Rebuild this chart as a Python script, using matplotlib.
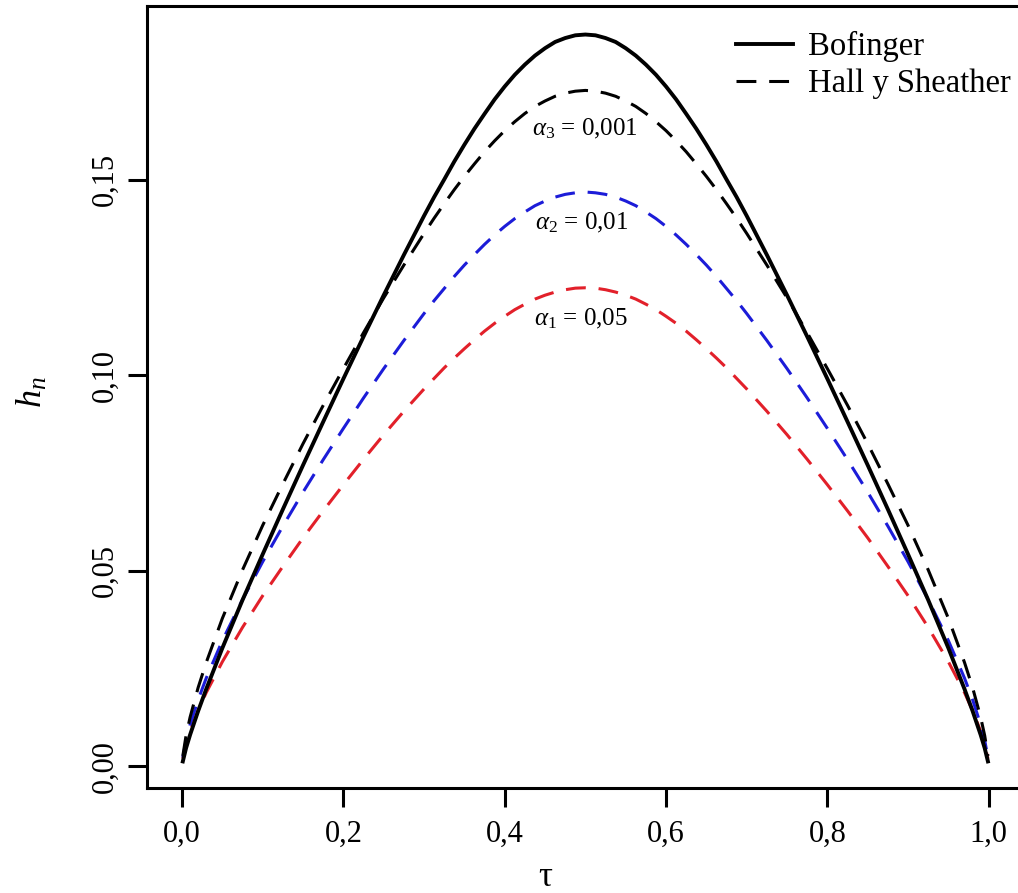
import matplotlib
matplotlib.use("Agg")
import matplotlib.pyplot as plt

plt.rcParams["font.family"] = ["Liberation Serif", "DejaVu Serif"]
plt.rcParams["mathtext.fontset"] = "custom"
plt.rcParams["mathtext.rm"] = "Liberation Serif"
plt.rcParams["mathtext.it"] = "Liberation Serif:italic"

# tau grid
tau = [0.001, 0.005, 0.01, 0.02, 0.03, 0.05, 0.075, 0.1, 0.125, 0.15, 0.175,
       0.2, 0.225, 0.25, 0.275, 0.3, 0.3125, 0.325, 0.3375, 0.35, 0.3625,
       0.375, 0.3875, 0.4, 0.4125, 0.425, 0.4375, 0.45, 0.4625, 0.475,
       0.4875, 0.5,
       0.5125, 0.525, 0.5375, 0.55, 0.5625, 0.575, 0.5875, 0.6, 0.6125,
       0.625, 0.6375, 0.65, 0.6625, 0.675, 0.6875, 0.7, 0.725, 0.75, 0.775,
       0.8, 0.825, 0.85, 0.875, 0.9, 0.925, 0.95, 0.97, 0.98, 0.99, 0.995,
       0.999]

bofinger = [0.0012, 0.0046, 0.0080, 0.0141, 0.0197, 0.0302, 0.0425, 0.0542,
            0.0657, 0.0770, 0.0881, 0.0991, 0.1099, 0.1205, 0.1308, 0.1408,
            0.1456, 0.1501, 0.1547, 0.1590, 0.1631, 0.1669, 0.1706, 0.1739,
            0.1769, 0.1795, 0.1818, 0.1837, 0.1853, 0.1863, 0.1870, 0.1872,
            0.1870, 0.1863, 0.1853, 0.1837, 0.1818, 0.1795, 0.1769, 0.1739,
            0.1706, 0.1669, 0.1631, 0.1590, 0.1547, 0.1501, 0.1456, 0.1408,
            0.1308, 0.1205, 0.1099, 0.0991, 0.0881, 0.0770, 0.0657, 0.0542,
            0.0425, 0.0302, 0.0197, 0.0141, 0.0080, 0.0046, 0.0012]

hs_001 = [0.0026, 0.0078, 0.0125, 0.0201, 0.0265, 0.0378, 0.0502, 0.0616,
          0.0722, 0.0825, 0.0923, 0.1017, 0.1109, 0.1198, 0.1282, 0.1363,
          0.1402, 0.1439, 0.1475, 0.1509, 0.1541, 0.1572, 0.1600, 0.1626,
          0.1649, 0.1670, 0.1688, 0.1702, 0.1714, 0.1722, 0.1727, 0.1729,
          0.1727, 0.1722, 0.1714, 0.1702, 0.1688, 0.1670, 0.1649, 0.1626,
          0.1600, 0.1572, 0.1541, 0.1509, 0.1475, 0.1439, 0.1402, 0.1363,
          0.1282, 0.1198, 0.1109, 0.1017, 0.0923, 0.0825, 0.0722, 0.0616,
          0.0502, 0.0378, 0.0265, 0.0201, 0.0125, 0.0078, 0.0026]

hs_01 = [0.0022, 0.0066, 0.0106, 0.0170, 0.0225, 0.0321, 0.0426, 0.0523,
         0.0614, 0.0701, 0.0784, 0.0864, 0.0942, 0.1017, 0.1089, 0.1158,
         0.1191, 0.1222, 0.1253, 0.1282, 0.1309, 0.1335, 0.1359, 0.1381,
         0.1401, 0.1418, 0.1434, 0.1446, 0.1456, 0.1463, 0.1467, 0.1469,
         0.1467, 0.1463, 0.1456, 0.1446, 0.1434, 0.1418, 0.1401, 0.1381,
         0.1359, 0.1335, 0.1309, 0.1282, 0.1253, 0.1222, 0.1191, 0.1158,
         0.1089, 0.1017, 0.0942, 0.0864, 0.0784, 0.0701, 0.0614, 0.0523,
         0.0426, 0.0321, 0.0225, 0.0170, 0.0106, 0.0066, 0.0022]

hs_05 = [0.0019, 0.0055, 0.0089, 0.0142, 0.0188, 0.0267, 0.0355, 0.0436,
         0.0511, 0.0584, 0.0653, 0.0720, 0.0785, 0.0848, 0.0908, 0.0965,
         0.0992, 0.1019, 0.1044, 0.1068, 0.1091, 0.1113, 0.1133, 0.1151,
         0.1168, 0.1182, 0.1195, 0.1205, 0.1213, 0.1219, 0.1223, 0.1224,
         0.1223, 0.1219, 0.1213, 0.1205, 0.1195, 0.1182, 0.1168, 0.1151,
         0.1133, 0.1113, 0.1091, 0.1068, 0.1044, 0.1019, 0.0992, 0.0965,
         0.0908, 0.0848, 0.0785, 0.0720, 0.0653, 0.0584, 0.0511, 0.0436,
         0.0355, 0.0267, 0.0188, 0.0142, 0.0089, 0.0055, 0.0019]

x_ticks = [0.0, 0.2, 0.4, 0.6, 0.8, 1.0]
x_labels = ["0,0", "0,2", "0,4", "0,6", "0,8", "1,0"]
y_ticks = [0.00, 0.05, 0.10, 0.15]
y_labels = ["0,00", "0,05", "0,10", "0,15"]

W, H = 1018, 893
fig = plt.figure(figsize=(W / 100, H / 100), dpi=100)
ax = fig.add_axes([147 / W, (H - 788) / H, 874 / W, 782 / H])

dash = (6.5, 4.2)
ax.plot(tau, hs_05, color="#e2202a", lw=2.2, dashes=dash)
ax.plot(tau, hs_01, color="#1c1cd8", lw=2.2, dashes=dash)
ax.plot(tau, hs_001, color="black", lw=2.2, dashes=dash,
        label="Hall y Sheather")
ax.plot(tau, bofinger, color="black", lw=2.8, label="Bofinger")

ax.set_xlim(-0.0434, 1.04)
ax.set_ylim(-0.0056, 0.1945)

ax.set_xticks(x_ticks)
ax.set_xticklabels(x_labels)
ax.set_yticks(y_ticks)
ax.set_yticklabels(y_labels, rotation=90, va="center")
ax.tick_params(direction="out", length=14, width=2.2, labelsize=22)
ax.tick_params(axis="x", pad=9)
ax.tick_params(axis="y", pad=6)
for s in ax.spines.values():
    s.set_linewidth(2.2)

fig.text(33 / W, 1 - 392 / H, r"$h_n$", rotation=90, fontsize=26,
         ha="center", va="center")
fig.text(545 / W, 1 - 878 / H, "τ", fontsize=25, ha="center", va="center")

ax.text(0.50, 0.1630, r"$\alpha_{\mathit{3}}$ = 0,001", fontsize=18,
        ha="center", va="center")
ax.text(0.495, 0.1390, r"$\alpha_{\mathit{2}}$ = 0,01", fontsize=18,
        ha="center", va="center")
ax.text(0.495, 0.1145, r"$\alpha_{\mathit{1}}$ = 0,05", fontsize=18,
        ha="center", va="center")

h, l = ax.get_legend_handles_labels()
fig.legend(h[::-1], l[::-1], loc="upper left",
           bbox_to_anchor=(736 / W, 1 - 31 / H), frameon=False,
           fontsize=23.5, handlelength=1.75, handletextpad=0.45,
           labelspacing=0.2, borderpad=0, borderaxespad=0)

fig.savefig("out.png", dpi=100)
